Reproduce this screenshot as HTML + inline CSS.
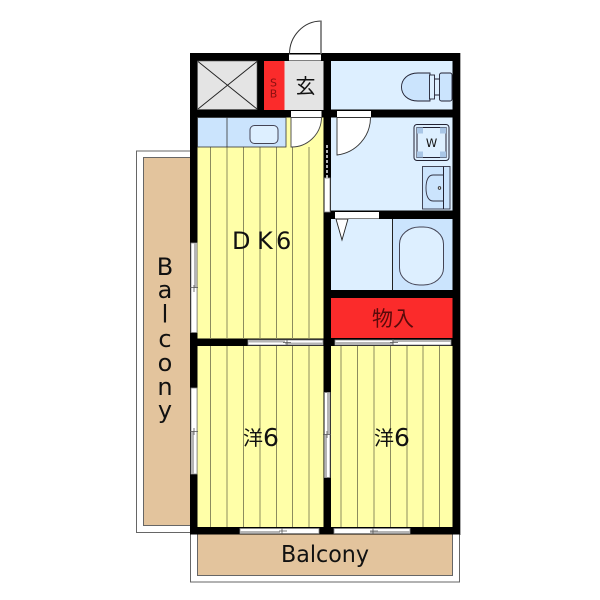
<!DOCTYPE html>
<html><head><meta charset="utf-8"><style>
html,body{margin:0;padding:0;background:#fff}svg{display:block}
text{font-family:"DejaVu Sans","Noto Sans CJK JP",sans-serif;fill:#111}
</style></head><body>
<svg width="600" height="600" viewBox="0 0 600 600" xmlns="http://www.w3.org/2000/svg">
<rect width="600" height="600" fill="#fff"/>
<!-- balconies -->
<rect x="136.5" y="151" width="54" height="381.5" fill="#fff" stroke="#666" stroke-width="1"/>
<rect x="143.5" y="157.5" width="47" height="368" fill="#e3c49d" stroke="#666" stroke-width="1"/>
<rect x="190.5" y="530" width="269" height="52" fill="#fff" stroke="#666" stroke-width="1"/>
<rect x="197.5" y="530" width="255" height="45.5" fill="#e3c49d" stroke="#666" stroke-width="1"/>
<!-- walls -->
<rect x="190" y="53" width="270" height="481.5" fill="#000"/>
<rect x="460" y="53" width="1" height="482" fill="#aaa"/>
<!-- rooms -->
<rect x="197.5" y="61" width="59.5" height="48.5" fill="#e4e4e4" stroke="#555" stroke-width=".6"/>
<path d="M198 61.5L257 109M257 61.5L198 109" stroke="#222" stroke-width=".9" fill="none"/>
<rect x="264" y="61" width="20.5" height="49" fill="#fb2b2b"/>
<rect x="284.500" y="61" width="39" height="49" fill="#e4e4e4"/>
<rect x="331" y="61" width="121.500" height="48.500" fill="#ddefff"/>
<rect x="331" y="117.500" width="121.500" height="93" fill="#ddefff"/>
<rect x="331" y="219" width="61.500" height="71" fill="#ddefff"/>
<rect x="392.500" y="219" width="60" height="71" fill="#cbe4fd"/>
<rect x="331" y="298" width="121.500" height="40" fill="#fb2b2b"/>
<rect x="197.500" y="117.500" width="126" height="221" fill="#ffffa8"/>
<rect x="197.500" y="346" width="126" height="181" fill="#ffffa8"/>
<rect x="331" y="346" width="121.500" height="181" fill="#ffffa8"/>
<!-- floor lines -->
<g stroke="#8c8c5e" stroke-width="1">
<path d="M210.500 147V339M227 147V339M243.500 147V339M260 147V339M276.500 147V339M292.500 147V339M309 147V339"/>
<path d="M210.500 346V527M227 346V527M243.500 346V527M260 346V527M276.500 346V527M292.500 346V527M309 346V527"/>
<path d="M341 346V527M357.500 346V527M374 346V527M390.500 346V527M407 346V527M423 346V527M439.500 346V527"/>
</g>
<!-- kitchen -->
<rect x="197.500" y="117.500" width="88.500" height="29.500" fill="#cbe4fd" stroke="#333" stroke-width=".8"/>
<path d="M227 117.500V147" stroke="#333" stroke-width=".8"/>
<rect x="250" y="125.500" width="28" height="18" rx="4.500" fill="#ddefff" stroke="#445" stroke-width="1"/>
<!-- interior door -->
<path d="M291 117.500H321.500V118A30 30 0 0 1 291 147Z" fill="#fff" stroke="#444" stroke-width=".9"/>
<rect x="291" y="111" width="30.500" height="6" fill="#fff"/>
<!-- entrance door -->
<rect x="289" y="54.500" width="32" height="6" fill="#fff"/>
<path d="M289.500 54A32 33 0 0 1 321 21" fill="none" stroke="#333" stroke-width="1"/>
<path d="M321 20.500V54" stroke="#666" stroke-width="1.500"/>
<!-- toilet -->
<path d="M430 73H418C407 73 401.500 80 401.500 87S407 101 418 101H430Z" fill="#cbe4fd" stroke="#223" stroke-width=".9"/>
<rect x="429.500" y="75" width="5" height="24" fill="#ddefff" stroke="#223" stroke-width=".9"/>
<rect x="439.500" y="73" width="12.500" height="28" rx="2" fill="#cbe4fd" stroke="#223" stroke-width=".9"/>
<path d="M434.500 79H439.500M434.500 95H439.500" stroke="#223" stroke-width=".9"/>
<!-- washroom door -->
<rect x="337" y="111" width="34" height="6" fill="#fff"/>
<path d="M337 117.500H370.500A38 38 0 0 1 337 155Z" fill="#fff" stroke="#333" stroke-width=".9"/>
<!-- washer -->
<rect x="414" y="124.500" width="35" height="36" rx="3" fill="#ddefff" stroke="#223" stroke-width="1"/>
<rect x="417" y="127.500" width="29" height="30" fill="#ddefff" stroke="#223" stroke-width="1"/>
<g fill="#a9c6e6"><rect x="417" y="127.500" width="6" height="6"/><rect x="440" y="127.500" width="6" height="6"/><rect x="417" y="151.500" width="6" height="6"/><rect x="440" y="151.500" width="6" height="6"/></g>
<text x="431.500" y="147" font-size="11.500" text-anchor="middle">W</text>
<!-- wash basin -->
<rect x="422.500" y="166.500" width="27.500" height="42.500" fill="#cbe4fd" stroke="#334" stroke-width=".9"/>
<path d="M443.500 166.500V209" stroke="#223" stroke-width="1"/>
<path d="M443.500 175H433C428 175 426 181 426 188S428 201 433 201H443.500" fill="none" stroke="#334" stroke-width=".9"/>
<circle cx="439.500" cy="188" r="1.300" fill="#fff" stroke="#222" stroke-width=".8"/>
<!-- bath -->
<path d="M392.500 219V290" stroke="#222" stroke-width="1"/>
<rect x="399.500" y="227" width="44" height="58" rx="20" ry="17" fill="#ddefff" stroke="#445" stroke-width="1"/>
<path d="M336 219L342 240L348 219Z" fill="#fff" stroke="#222" stroke-width=".9"/>
<rect x="335" y="212" width="44" height="6.500" fill="#fff"/>
<!-- windows -->
<g fill="#fff" stroke="#888" stroke-width=".8">
<rect x="191" y="243" width="6" height="89.500"/>
<rect x="191" y="388" width="6" height="86"/>
<rect x="324.500" y="392.500" width="5.500" height="85"/>
<rect x="324.500" y="178" width="5.500" height="34"/>
<rect x="248" y="340" width="75" height="5"/>
<rect x="335" y="340" width="58" height="5"/>
<rect x="393" y="340" width="58" height="5"/>
<rect x="240" y="528.500" width="79" height="5"/>
<rect x="334" y="528.500" width="76" height="5"/>
</g>
<g fill="#b5b5b5">
<rect x="194" y="243" width="3" height="45"/>
<rect x="191" y="431" width="3" height="43"/>
<rect x="327" y="392.500" width="3" height="42"/>
<rect x="324.500" y="434" width="2.500" height="43.500"/>
<rect x="248" y="340" width="37" height="2.500"/>
<rect x="285" y="342.500" width="38" height="2.500"/>
<rect x="335" y="342" width="58" height="3"/>
<rect x="393" y="340" width="58" height="2"/>
<rect x="240" y="531" width="40" height="2.500"/>
<rect x="370" y="531" width="40" height="2.500"/>
</g>
<path d="M327 145V178" stroke="#eee" stroke-width="1.500" stroke-dasharray="3 2"/>
<g stroke="#555" stroke-width=".8" fill="none">
<path d="M190 287.500H198M194 285V292M190 431.500H198M194 428V435M323 434.500H331M327 431V438"/>
<path d="M283 342.500H291M287 340V345M390 342.500H398M393 339V345M279 531H287M282 528V534M370 531H378M373 528V534"/>
</g>
<!-- labels -->
<text x="273.500" y="86.500" font-size="11" text-anchor="middle" style="fill:#8a1010">S</text>
<text x="273.500" y="97.500" font-size="11" text-anchor="middle" style="fill:#8a1010">B</text>
<text x="305.500" y="93" font-size="20" text-anchor="middle">玄</text>
<text y="249" font-size="24"><tspan x="232">D</tspan><tspan x="257">K</tspan><tspan x="276">6</tspan></text>
<text x="393" y="326" font-size="21" text-anchor="middle" style="fill:#5a0a0a">物入</text>
<g font-size="24" text-anchor="middle">
<text x="165" y="275">B</text><text x="165" y="298">a</text><text x="165" y="322.500">l</text><text x="165" y="347">c</text><text x="165" y="371">o</text><text x="165" y="395">n</text><text x="165" y="418">y</text>
</g>
<text x="243" y="445" font-size="20">洋</text><text x="263" y="446" font-size="25">6</text>
<text x="374" y="445" font-size="20">洋</text><text x="394" y="446" font-size="25">6</text>
<text x="325" y="562" font-size="23" text-anchor="middle" textLength="88" lengthAdjust="spacingAndGlyphs">Balcony</text>
</svg>
</body></html>
